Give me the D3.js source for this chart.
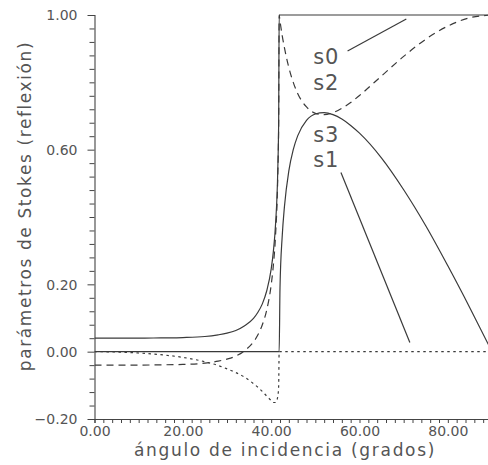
<!DOCTYPE html>
<html>
<head>
<meta charset="utf-8">
<script src="https://cdn.jsdelivr.net/npm/d3@7"></script>
<style>
  html, body { margin: 0; padding: 0; background: #fff; }
  svg { display: block; }
  text { font-family: "DejaVu Sans", sans-serif; fill: #555; }
</style>
</head>
<body>
<svg id="chart" width="488" height="465"></svg>
<script>
// angle of incidence (degrees)
const angles = [0,5,10,15,20,25,28,30,32,34,36,37,38,39,40,40.5,41,41.5,41.7,41.81,
                42,42.5,43,44,45,46,48,50,52,54,56,58,60,65,70,75,80,85,90];
// Stokes parameters of the reflected light
const s0 = [0.040,0.040,0.040,0.041,0.042,0.045,0.050,0.055,0.063,0.077,0.099,0.117,0.142,0.181,0.245,0.298,0.380,0.542,0.690,1.000,
            1,1,1,1,1,1,1,1,1,1,1,1,1,1,1,1,1,1,1];
const s1 = [0,-0.001,-0.004,-0.009,-0.017,-0.030,-0.041,-0.051,-0.062,-0.076,-0.095,-0.106,-0.118,-0.132,-0.145,-0.151,-0.151,-0.133,-0.101,0,
            0,0,0,0,0,0,0,0,0,0,0,0,0,0,0,0,0,0,0];
const s2 = [-0.040,-0.040,-0.040,-0.039,-0.038,-0.034,-0.028,-0.022,-0.013,0.003,0.029,0.050,0.080,0.124,0.198,0.257,0.348,0.525,0.682,1.000,
            0.982,0.939,0.903,0.844,0.800,0.767,0.727,0.708,0.704,0.710,0.723,0.740,0.761,0.819,0.877,0.928,0.967,0.992,1.000];
const s3 = [0,0,0,0,0,0,0,0,0,0,0,0,0,0,0,0,0,0,0,0,
            0.189,0.343,0.430,0.537,0.600,0.641,0.687,0.706,0.710,0.704,0.691,0.672,0.649,0.575,0.481,0.374,0.255,0.130,0];
// axis ticks
const yTicks = d3.range(-0.20, 1.0001, 0.04).map(v => Math.round(v * 100) / 100);
const yTickLabels = [-0.20, 0.00, 0.20, 0.60, 1.00];
const xTicks = d3.range(0, 90.001, 2);
const xTickLabels = [0, 20, 40, 60, 80];
const xTitle = "ángulo de incidencia (grados)";
const yTitle = "parámetros de Stokes (reflexión)";
const seriesLabels = ["s0", "s2", "s3", "s1"];

const svg = d3.select("#chart");
const x = d3.scaleLinear().domain([0, 90]).range([94.5, 492]);
const y = d3.scaleLinear().domain([-0.20, 1.00]).range([419, 15]);

const fmt = d3.format(".2f");

// Y axis
const yAxis = d3.axisLeft(y)
  .tickValues(yTicks)
  .tickSizeOuter(0)
  .tickSize(5)
  .tickPadding(12)
  .tickFormat(d => yTickLabels.some(v => Math.abs(v - d) < 1e-6) ? fmt(d) : "");
const gy = svg.append("g").attr("transform", `translate(${x(0)},0)`).call(yAxis);
gy.select(".domain").attr("stroke", "#444").attr("stroke-width", 1.1);
gy.selectAll(".tick line").attr("stroke", "#444").attr("stroke-width", 1)
  .attr("x2", d => yTickLabels.some(v => Math.abs(v - d) < 1e-6) ? -7 : -5);
gy.selectAll(".tick text").style("font-size", "14px").attr("fill", "#555").attr("dy", "0.35em");

// X axis
const xAxis = d3.axisBottom(x)
  .tickValues(xTicks)
  .tickSizeOuter(0)
  .tickSize(4)
  .tickPadding(3)
  .tickFormat(d => xTickLabels.includes(d) ? fmt(d) : "");
const gx = svg.append("g").attr("transform", `translate(0,${y(-0.20)})`).call(xAxis);
gx.select(".domain").attr("stroke", "#444").attr("stroke-width", 1.1);
gx.selectAll(".tick line").attr("stroke", "#444").attr("stroke-width", 1);
gx.selectAll(".tick text").style("font-size", "14px").attr("fill", "#555");

// axis titles
svg.append("text")
  .attr("x", 285).attr("y", 456)
  .attr("text-anchor", "middle")
  .style("font-size", "17px").style("letter-spacing", "1.7px")
  .text(xTitle);
svg.append("text")
  .attr("transform", "translate(31,206) rotate(-90)")
  .attr("text-anchor", "middle")
  .style("font-size", "17px").style("letter-spacing", "1.6px")
  .text(yTitle);

// curves
const pts = arr => angles.map((a, i) => [a, arr[i]]);
const line = d3.line().x(d => x(d[0])).y(d => y(d[1])).curve(d3.curveMonotoneX);

const defs = svg.append("defs");
defs.append("clipPath").attr("id", "clip")
  .append("rect").attr("x", x(0)).attr("y", 0).attr("width", 500).attr("height", y(-0.2));

const plot = svg.append("g").attr("clip-path", "url(#clip)");
const series = [
  {data: s0, dash: null},
  {data: s3, dash: null},
  {data: s2, dash: "7,5"},
  {data: s1, dash: "2.5,3.5"}
];
series.forEach(s => {
  plot.append("path")
    .attr("d", line(pts(s.data)))
    .attr("fill", "none")
    .attr("stroke", "#3a3a3a")
    .attr("stroke-width", 1.2)
    .attr("stroke-dasharray", s.dash);
});

// series labels with pointers
const labelPos = [
  {t: seriesLabels[0], a: 49.5, v: 0.853},
  {t: seriesLabels[1], a: 49.5, v: 0.777},
  {t: seriesLabels[2], a: 49.5, v: 0.623},
  {t: seriesLabels[3], a: 49.5, v: 0.548}
];
labelPos.forEach(l => {
  svg.append("text")
    .attr("x", x(l.a)).attr("y", y(l.v))
    .style("font-size", "21px").style("letter-spacing", "1px")
    .text(l.t);
});
// pointer lines (s0 -> top line, s1 -> zero dotted line)
svg.append("line")
  .attr("x1", x(57.3)).attr("y1", y(0.893))
  .attr("x2", x(70.6)).attr("y2", y(0.988))
  .attr("stroke", "#3a3a3a").attr("stroke-width", 1.2);
svg.append("line")
  .attr("x1", x(55.8)).attr("y1", y(0.532))
  .attr("x2", x(71.4)).attr("y2", y(0.027))
  .attr("stroke", "#3a3a3a").attr("stroke-width", 1.2);
</script>
</body>
</html>
